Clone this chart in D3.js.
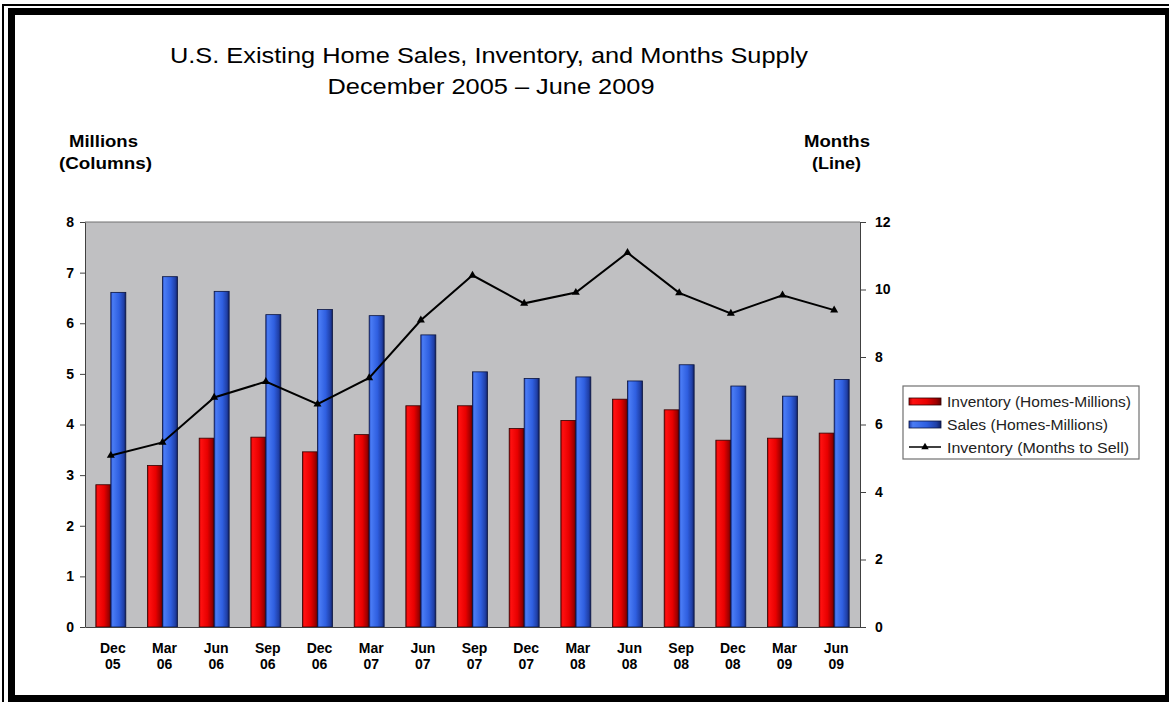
<!DOCTYPE html>
<html>
<head>
<meta charset="utf-8">
<script src="https://d3js.org/d3.v7.min.js"></script>
<style>
  body { margin: 0; background: #fff; }
  text { font-family: Arial, "Liberation Sans", sans-serif; }
</style>
</head>
<body>
<svg id="chart" width="1169" height="702"></svg>
<script>
// quarters shown on the x axis
const periods = ["Dec 05", "Mar 06", "Jun 06", "Sep 06", "Dec 06", "Mar 07", "Jun 07", "Sep 07",
                 "Dec 07", "Mar 08", "Jun 08", "Sep 08", "Dec 08", "Mar 09", "Jun 09"];
// millions of homes (left axis)
const inventory = [2.81, 3.19, 3.73, 3.75, 3.46, 3.80, 4.37, 4.37, 3.92, 4.08, 4.50, 4.29, 3.69, 3.73, 3.83];
const sales     = [6.61, 6.92, 6.63, 6.17, 6.27, 6.15, 5.77, 5.04, 4.91, 4.94, 4.86, 5.18, 4.76, 4.56, 4.89];
// months supply (right axis)
const monthsSupply = [5.08, 5.47, 6.80, 7.27, 6.60, 7.38, 9.09, 10.42, 9.59, 9.91, 11.09, 9.90, 9.29, 9.83, 9.39];
const leftTicks = [0, 1, 2, 3, 4, 5, 6, 7, 8];
const rightTicks = [0, 2, 4, 6, 8, 10, 12];
const seriesNames = ["Inventory (Homes-Millions)", "Sales (Homes-Millions)", "Inventory (Months to Sell)"];

const svg = d3.select("#chart");
const plotLeft = 85, plotRight = 860, plotTop = 222, plotBottom = 627;
const font = "Arial, 'Liberation Sans', sans-serif";

// frame
svg.append("rect").attr("x", 3).attr("y", 5).attr("width", 1200).attr("height", 720)
  .attr("fill", "none").attr("stroke", "#000").attr("stroke-width", 2);
svg.append("rect").attr("x", 11.5).attr("y", 11.5).attr("width", 1157).attr("height", 687)
  .attr("fill", "none").attr("stroke", "#000").attr("stroke-width", 7);

// gradients for the bars
const defs = svg.append("defs");
function grad(id, stops) {
  const g = defs.append("linearGradient").attr("id", id).attr("x1", "0%").attr("x2", "100%");
  stops.forEach(s => g.append("stop").attr("offset", s[0]).attr("stop-color", s[1]));
}
grad("redGrad", [["0%", "#b00000"], ["12%", "#ff1010"], ["55%", "#e80000"], ["85%", "#a00000"], ["100%", "#600000"]]);
grad("blueGrad", [["0%", "#2040b0"], ["12%", "#4a7cf5"], ["55%", "#2f5fe0"], ["85%", "#2040a8"], ["100%", "#101f60"]]);

const x0 = d3.scaleBand().domain(periods).range([plotLeft, plotRight]).paddingInner(0.42).paddingOuter(0.21);
const x1 = d3.scaleBand().domain(["inv", "sales"]).range([0, x0.bandwidth()]);
const yL = d3.scaleLinear().domain([0, 8]).range([plotBottom, plotTop]);
const yR = d3.scaleLinear().domain([0, 12]).range([plotBottom, plotTop]);

// plot background
svg.append("rect").attr("x", plotLeft).attr("y", plotTop)
  .attr("width", plotRight - plotLeft).attr("height", plotBottom - plotTop)
  .attr("fill", "#c0c0c2");
svg.append("line").attr("x1", plotLeft).attr("x2", plotRight).attr("y1", plotTop).attr("y2", plotTop)
  .attr("stroke", "#707070").attr("stroke-width", 1);

// bars
const groups = svg.append("g").selectAll("g").data(periods).join("g")
  .attr("transform", d => `translate(${x0(d)},0)`);
groups.append("rect")
  .attr("x", x1("inv")).attr("width", x1.bandwidth())
  .attr("y", (d, i) => yL(inventory[i])).attr("height", (d, i) => yL(0) - yL(inventory[i]))
  .attr("fill", "url(#redGrad)").attr("stroke", "#300000").attr("stroke-width", 0.8);
groups.append("rect")
  .attr("x", x1("sales")).attr("width", x1.bandwidth())
  .attr("y", (d, i) => yL(sales[i])).attr("height", (d, i) => yL(0) - yL(sales[i]))
  .attr("fill", "url(#blueGrad)").attr("stroke", "#0a1440").attr("stroke-width", 0.8);

// line
const cx = d => x0(d) + x0.bandwidth() / 2;
const line = d3.line().x((d, i) => cx(periods[i])).y(d => yR(d));
svg.append("path").datum(monthsSupply).attr("d", line)
  .attr("fill", "none").attr("stroke", "#000").attr("stroke-width", 2);
const tri = d3.symbol().type(d3.symbolTriangle).size(28);
svg.append("g").selectAll("path").data(monthsSupply).join("path")
  .attr("d", tri).attr("fill", "#000")
  .attr("transform", (d, i) => `translate(${cx(periods[i])},${yR(d)})`);

// axes
const axL = svg.append("g").attr("transform", `translate(${plotLeft},0)`)
  .call(d3.axisLeft(yL).tickValues(leftTicks).tickSize(5).tickSizeOuter(0).tickPadding(6));
const axR = svg.append("g").attr("transform", `translate(${plotRight},0)`)
  .call(d3.axisRight(yR).tickValues(rightTicks).tickSize(6).tickSizeOuter(0).tickPadding(9));
[axL, axR].forEach(a => {
  a.selectAll("path, line").attr("stroke", "#404040");
  a.selectAll("text").attr("font-size", 14).attr("font-weight", "bold").attr("fill", "#000")
    .attr("font-family", font);
});
const axB = svg.append("g").attr("transform", `translate(0,${plotBottom})`)
  .call(d3.axisBottom(x0).tickSize(0).tickSizeOuter(0));
axB.select(".domain").attr("stroke", "#404040");
axB.selectAll(".tick text").remove();
axB.selectAll(".tick").each(function(d) {
  const parts = d.split(" ");
  const tick = d3.select(this);
  parts.forEach((p, j) => {
    tick.append("text").attr("x", 2).attr("y", 26 + j * 16).attr("dy", 0)
      .attr("text-anchor", "middle").attr("font-size", 14).attr("font-weight", "bold")
      .attr("fill", "#000").attr("font-family", font).text(p);
  });
});

// titles (text in the reference is slightly stretched, so fix widths)
function label(x, y, size, weight, str, len) {
  svg.append("text").attr("x", x).attr("y", y).attr("text-anchor", "middle")
    .attr("font-size", size).attr("font-weight", weight)
    .attr("textLength", len).attr("lengthAdjust", "spacingAndGlyphs").text(str);
}
label(489, 63, 22, "normal", "U.S. Existing Home Sales, Inventory, and Months Supply", 638);
label(491, 94, 22, "normal", "December 2005 \u2013 June 2009", 327);
label(103.5, 147, 16, "bold", "Millions", 69);
label(105.5, 169, 16, "bold", "(Columns)", 93);
label(837, 147, 16, "bold", "Months", 66);
label(836.5, 169, 16, "bold", "(Line)", 49);

// legend
const lg = svg.append("g").attr("transform", "translate(903,386)");
lg.append("rect").attr("width", 236).attr("height", 73).attr("fill", "#fff")
  .attr("stroke", "#707070").attr("stroke-width", 1.2);
lg.append("rect").attr("x", 6).attr("y", 12).attr("width", 32).attr("height", 7)
  .attr("fill", "url(#redGrad)").attr("stroke", "#300000").attr("stroke-width", 0.8);
lg.append("rect").attr("x", 6).attr("y", 35).attr("width", 32).attr("height", 7)
  .attr("fill", "url(#blueGrad)").attr("stroke", "#0a1440").attr("stroke-width", 0.8);
lg.append("line").attr("x1", 6).attr("x2", 38).attr("y1", 61).attr("y2", 61)
  .attr("stroke", "#000").attr("stroke-width", 1.5);
lg.append("path").attr("d", d3.symbol().type(d3.symbolTriangle).size(24))
  .attr("transform", "translate(22,61)").attr("fill", "#000");
const legendLens = [184, 161, 182];
seriesNames.forEach((n, i) => {
  lg.append("text").attr("x", 44).attr("y", 20.5 + i * 23.2).attr("font-size", 14)
    .attr("fill", "#222").attr("textLength", legendLens[i]).attr("lengthAdjust", "spacingAndGlyphs")
    .text(n);
});
</script>
</body>
</html>
